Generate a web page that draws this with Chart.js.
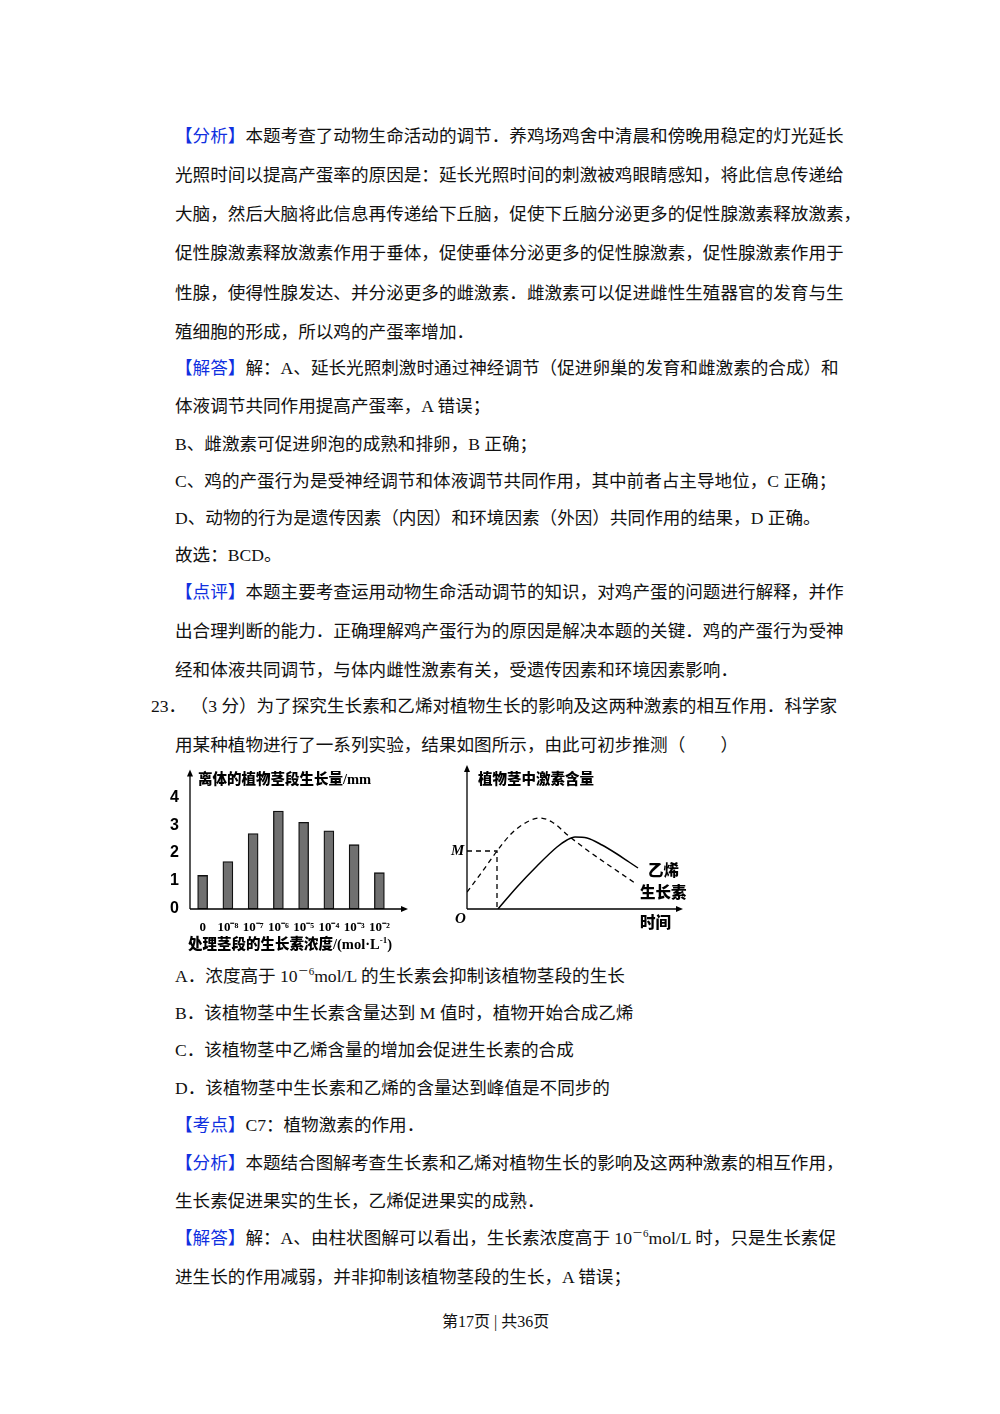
<!DOCTYPE html>
<html><head><meta charset="utf-8">
<script src="https://cdn.jsdelivr.net/npm/chart.js@4/dist/chart.umd.min.js"></script>
<style>
body{margin:0;width:1000px;height:1414px;background:#fff;position:relative;font-family:"Liberation Serif","Noto Sans CJK SC",serif;color:#111}
.l{position:absolute;left:175px;font-size:17.6px;line-height:22px;white-space:nowrap;font-family:"Liberation Serif","Noto Sans CJK SC";}
.l sup{font-size:11px;vertical-align:0;position:relative;top:-7px;line-height:0}
.b{color:#1030e0}
.c{position:absolute;font-family:"Liberation Serif","Noto Sans CJK SC";font-weight:900;font-size:14.5px;color:#000;white-space:nowrap;line-height:16px}
.box{position:absolute}
</style></head><body>
<div id="txt"></div>
<div class="box" style="left:165px;top:765px;width:270px;height:195px"><canvas id="c1"></canvas></div>
<div class="box" style="left:445px;top:765px;width:260px;height:195px"><canvas id="c2"></canvas></div>
<div class="c" style="left:198px;top:771px">离体的植物茎段生长量/mm</div>
<div class="c" style="left:188px;top:932px">处理茎段的生长素浓度/(mol·L<sup style="font-size:9px">-1</sup>)</div>
<div class="c" style="left:478px;top:771px">植物茎中激素含量</div>
<div class="c" style="left:451px;top:842px;font-style:italic;font-size:15px">M</div>
<div class="c" style="left:455px;top:910px;font-style:italic;font-size:15px">O</div>
<div class="c" style="left:648px;top:863px;font-size:15.5px">乙烯</div>
<div class="c" style="left:640px;top:885px;font-size:15.5px">生长素</div>
<div class="c" style="left:640px;top:915px;font-size:15.5px">时间</div>
<script>
const lines=[
[136,'<span class="b">【分析】</span>本题考查了动物生命活动的调节．养鸡场鸡舍中清晨和傍晚用稳定的灯光延长'],
[175,'光照时间以提高产蛋率的原因是：延长光照时间的刺激被鸡眼睛感知，将此信息传递给'],
[214,'大脑，然后大脑将此信息再传递给下丘脑，促使下丘脑分泌更多的促性腺激素释放激素，'],
[253,'促性腺激素释放激素作用于垂体，促使垂体分泌更多的促性腺激素，促性腺激素作用于'],
[293,'性腺，使得性腺发达、并分泌更多的雌激素．雌激素可以促进雌性生殖器官的发育与生'],
[332,'殖细胞的形成，所以鸡的产蛋率增加．'],
[368,'<span class="b">【解答】</span>解：A、延长光照刺激时通过神经调节（促进卵巢的发育和雌激素的合成）和'],
[406,'体液调节共同作用提高产蛋率，A 错误；'],
[444,'B、雌激素可促进卵泡的成熟和排卵，B 正确；'],
[481,'C、鸡的产蛋行为是受神经调节和体液调节共同作用，其中前者占主导地位，C 正确；'],
[518,'D、动物的行为是遗传因素（内因）和环境因素（外因）共同作用的结果，D 正确。'],
[555,'故选：BCD。'],
[592,'<span class="b">【点评】</span>本题主要考查运用动物生命活动调节的知识，对鸡产蛋的问题进行解释，并作'],
[631,'出合理判断的能力．正确理解鸡产蛋行为的原因是解决本题的关键．鸡的产蛋行为受神'],
[670,'经和体液共同调节，与体内雌性激素有关，受遗传因素和环境因素影响．'],
[706,'<span style="position:relative;left:-24px">23．&nbsp;（3 分）为了探究生长素和乙烯对植物生长的影响及这两种激素的相互作用．科学家</span>'],
[745,'用某种植物进行了一系列实验，结果如图所示，由此可初步推测（　　）'],
[976,'A．浓度高于 10<sup>－6</sup>mol/L 的生长素会抑制该植物茎段的生长'],
[1013,'B．该植物茎中生长素含量达到 M 值时，植物开始合成乙烯'],
[1050,'C．该植物茎中乙烯含量的增加会促进生长素的合成'],
[1088,'D．该植物茎中生长素和乙烯的含量达到峰值是不同步的'],
[1125,'<span class="b">【考点】</span>C7：植物激素的作用．'],
[1163,'<span class="b">【分析】</span>本题结合图解考查生长素和乙烯对植物生长的影响及这两种激素的相互作用，'],
[1201,'生长素促进果实的生长，乙烯促进果实的成熟．'],
[1238,'<span class="b">【解答】</span>解：A、由柱状图解可以看出，生长素浓度高于 10<sup>－6</sup>mol/L 时，只是生长素促'],
[1277,'进生长的作用减弱，并非抑制该植物茎段的生长，A 错误；'],
];
document.getElementById('txt').innerHTML=lines.map(([y,t])=>`<div class="l" style="top:${y-11}px">${t}</div>`).join('')+
'<div class="l" style="top:1311px;left:442px;font-size:16px">第17页 | 共36页</div>';

const concLabels=['0','10⁻⁸','10⁻⁷','10⁻⁶','10⁻⁵','10⁻⁴','10⁻³','10⁻²'];
const growth=[1.2,1.7,2.7,3.5,3.1,2.8,2.3,1.3];
const yTicks=[0,1,2,3,4];
const auxin=[[0,17],[15,37],[30,58],[45,76],[60,87],[73,91],[85,87],[103,72],[120,59],[140,45],[168,26]];
const ethylene=[[31,0],[50,22],[70,43],[90,62],[100,69],[108,72],[120,71],[135,64],[150,55],[162,47],[171,41]];
const mGuide=[[0,58],[30,58],[30,0]];

const arrows={id:'arrows',afterDraw(c){const a=c.chartArea,x=c.ctx;x.save();x.strokeStyle='#000';x.fillStyle='#000';x.lineWidth=1.3;
 x.beginPath();x.moveTo(a.left,a.bottom);x.lineTo(a.right+c.options.extraRight,a.bottom);x.moveTo(a.left,a.bottom);x.lineTo(a.left,a.top-2);x.stroke();
 x.beginPath();x.moveTo(a.right+c.options.extraRight+6,a.bottom);x.lineTo(a.right+c.options.extraRight-1,a.bottom-3);x.lineTo(a.right+c.options.extraRight-1,a.bottom+3);x.fill();
 x.beginPath();x.moveTo(a.left,a.top-8);x.lineTo(a.left-3,a.top-1);x.lineTo(a.left+3,a.top-1);x.fill();x.restore();}};
const tf={family:'Liberation Sans',weight:'bold',size:16};
new Chart(document.getElementById('c1'),{type:'bar',plugins:[arrows],
 data:{labels:concLabels,datasets:[{data:growth,backgroundColor:'#707070',borderColor:'#111',borderWidth:1.3,barThickness:10,borderSkipped:false}]},
 options:{extraRight:10,animation:false,responsive:true,maintainAspectRatio:false,layout:{padding:{top:10,right:43}},plugins:{legend:{display:false},tooltip:{enabled:false}},
 scales:{y:{min:0,max:4.7,afterFit:s=>{s.width=25},afterBuildTicks:s=>{s.ticks=yTicks.map(v=>({value:v}))},grid:{display:false},border:{display:false},ticks:{color:'#000',font:tf,padding:3}},
 x:{afterFit:s=>{s.height=51},grid:{display:false},border:{display:false},ticks:{color:'#000',font:{family:'Liberation Serif',weight:'bold',size:13},padding:3,maxRotation:0,autoSkip:false}}}}});

const pts=a=>a.map(([x,y])=>({x,y}));
new Chart(document.getElementById('c2'),{type:'line',plugins:[arrows],
 data:{datasets:[
 {data:pts(auxin),borderColor:'#000',borderWidth:1.3,borderDash:[5,4],pointRadius:0,tension:0.4,cubicInterpolationMode:'monotone'},
 {data:pts(ethylene),borderColor:'#000',borderWidth:1.5,pointRadius:0,tension:0.4,cubicInterpolationMode:'monotone'},
 {data:pts(mGuide),borderColor:'#000',borderWidth:1.3,borderDash:[5,4],pointRadius:0,tension:0}]},
 options:{extraRight:10,animation:false,responsive:true,maintainAspectRatio:false,layout:{padding:{top:8,right:38}},plugins:{legend:{display:false},tooltip:{enabled:false}},
 scales:{x:{type:'linear',min:0,max:200,afterFit:s=>{s.height=51},grid:{display:false},border:{display:false},ticks:{display:false}},
 y:{min:0,max:136,afterFit:s=>{s.width=22},grid:{display:false},border:{display:false},ticks:{display:false}}}}});
</script></body></html>
